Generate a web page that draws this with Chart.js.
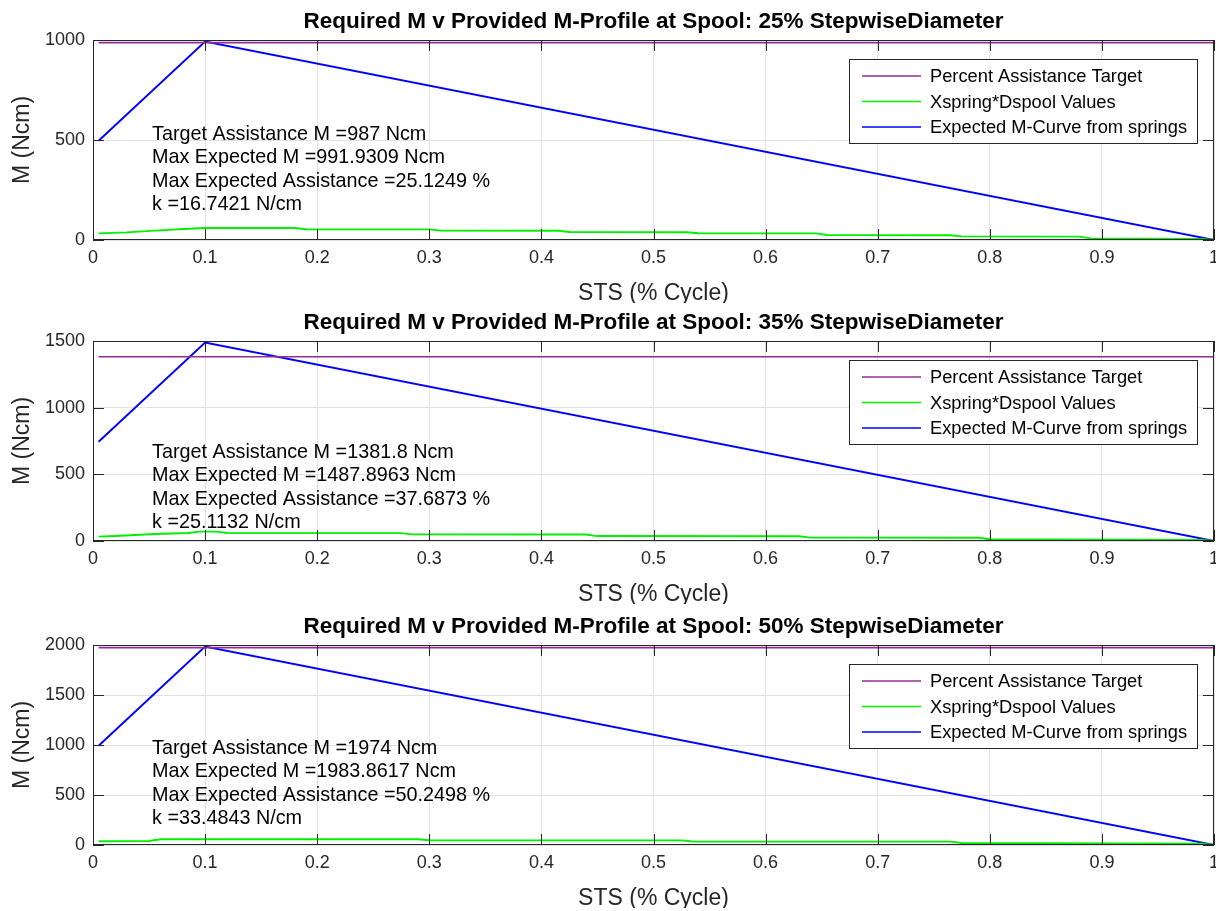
<!DOCTYPE html>
<html>
<head>
<meta charset="utf-8">
<script src="https://cdn.jsdelivr.net/npm/chart.js@4.4.1/dist/chart.umd.min.js"></script>
<style>
  html, body { margin: 0; padding: 0; background: #fff; width: 1216px; height: 911px; overflow: hidden; }
  canvas { position: absolute; left: 0; }
</style>
</head>
<body>
<canvas id="c1" width="1216" height="303" style="top:0px"></canvas>
<canvas id="c2" width="1216" height="303" style="top:301px"></canvas>
<canvas id="c3" width="1216" height="303" style="top:605px"></canvas>
<script>
// ---- data -------------------------------------------------------------
const assistLevels = ['25%', '35%', '50%'];
const seriesNames = ['Percent Assistance Target', 'Xspring*Dspool Values', 'Expected M-Curve from springs'];
const xTickValues = [0, 0.1, 0.2, 0.3, 0.4, 0.5, 0.6, 0.7, 0.8, 0.9, 1];
const yTicks25 = [0, 500, 1000];
const yTicks35 = [0, 500, 1000, 1500];
const yTicks50 = [0, 500, 1000, 1500, 2000];

// required (target) moment per assistance level
const targetX = [0.005, 1];
const targetM25 = [987, 987];
const targetM35 = [1381.8, 1381.8];
const targetM50 = [1974, 1974];

// expected moment curve from the springs
const curveX = [0.005, 0.1, 1];
const curveM25 = [496, 991.9309, 0];
const curveM35 = [744, 1487.8963, 0];
const curveM50 = [992, 1983.8617, 0];

// Xspring * Dspool values
const springX25 = [0.005, 0.03, 0.055, 0.085, 0.1, 0.18, 0.19, 0.30, 0.31, 0.415, 0.425, 0.53, 0.54, 0.645, 0.655, 0.765, 0.775, 0.88, 0.89, 0.99, 1];
const springM25 = [33, 38, 47, 56, 60, 60, 54, 53, 47, 46, 40, 39, 34, 33, 25, 24, 18, 17, 8, 5, 0];
const springX35 = [0.005, 0.02, 0.055, 0.085, 0.095, 0.11, 0.12, 0.275, 0.285, 0.44, 0.45, 0.63, 0.64, 0.79, 0.80, 0.99, 1];
const springM35 = [33, 38, 52, 60, 70, 70, 60, 59, 50, 49, 37, 36, 25, 24, 13, 8, 0];
const springX50 = [0.005, 0.05, 0.06, 0.29, 0.30, 0.525, 0.535, 0.765, 0.775, 0.99, 1];
const springM50 = [38, 40, 58, 57, 47, 46, 35, 34, 20, 12, 0];

// summary numbers printed on each panel
const assistPercent = ['25.1249', '37.6873', '50.2498'];
const stiffness = ['16.7421', '25.1132', '33.4843'];

// ---- drawing ----------------------------------------------------------
const FONT = '"Liberation Sans", Arial, Helvetica, sans-serif';
const TEXT = '#262626';
const COLORS = ['#922d96', '#00f000', '#0000ff'];
Chart.defaults.font.family = FONT;
Chart.defaults.color = TEXT;
Chart.defaults.animation = false;

const zip = (xs, ys) => xs.map((x, i) => ({ x: x, y: ys[i] }));

const panelDecor = {
  id: 'panelDecor',
  afterDraw(chart, args, o) {
    const ctx = chart.ctx;
    const a = chart.chartArea;
    const xs = chart.scales.x, ys = chart.scales.y;
    ctx.save();

    // tick marks (pointing inward) and the axes box
    ctx.strokeStyle = TEXT;
    ctx.lineWidth = 1;
    ctx.beginPath();
    xs.ticks.forEach(t => {
      const px = Math.round(xs.getPixelForValue(t.value)) + 0.5;
      ctx.moveTo(px, a.bottom); ctx.lineTo(px, a.bottom - 11);
      ctx.moveTo(px, a.top); ctx.lineTo(px, a.top + 11);
    });
    ys.ticks.forEach(t => {
      const py = Math.round(ys.getPixelForValue(t.value)) + 0.5;
      ctx.moveTo(a.left, py); ctx.lineTo(a.left + 11, py);
      ctx.moveTo(a.right, py); ctx.lineTo(a.right - 11, py);
    });
    ctx.stroke();
    ctx.strokeRect(a.left + 0.5, a.top + 0.5, a.right - a.left - 1, a.bottom - a.top - 1);

    // title
    ctx.fillStyle = '#000';
    ctx.font = 'bold 22.5px ' + FONT;
    ctx.textAlign = 'center';
    ctx.textBaseline = 'alphabetic';
    ctx.fillText(o.title, (a.left + a.right) / 2, a.top - 12);

    // axis labels
    ctx.fillStyle = TEXT;
    ctx.font = '23px ' + FONT;
    ctx.textBaseline = 'middle';
    ctx.fillText('STS (% Cycle)', (a.left + a.right) / 2, a.bottom + 54);
    ctx.save();
    ctx.translate(23, (a.top + a.bottom) / 2);
    ctx.rotate(-Math.PI / 2);
    ctx.fillText('M (Ncm)', 0, 0);
    ctx.restore();

    // summary text block
    ctx.fillStyle = '#000';
    ctx.font = '19.8px ' + FONT;
    ctx.textAlign = 'left';
    ctx.textBaseline = 'middle';
    o.lines.forEach((s, i) => ctx.fillText(s, 152, a.top + o.textTop + i * 23.3));

    // legend
    const bl = 849, bt = a.top + 19, bw = 348, bh = 84;
    ctx.fillStyle = '#fff';
    ctx.fillRect(bl, bt, bw, bh);
    ctx.strokeStyle = TEXT;
    ctx.lineWidth = 1;
    ctx.strokeRect(bl + 0.5, bt + 0.5, bw, bh);
    ctx.font = '18.3px ' + FONT;
    chart.data.datasets.forEach((ds, i) => {
      const y = bt + 17 + i * 25.5;
      ctx.strokeStyle = ds.borderColor;
      ctx.lineWidth = 1.6;
      ctx.beginPath();
      ctx.moveTo(bl + 13, y); ctx.lineTo(bl + 72, y);
      ctx.stroke();
      ctx.fillStyle = '#000';
      ctx.fillText(ds.label, bl + 81, y + 1);
    });
    ctx.restore();
  }
};

function makePanel(id, level, target, curve, springX, springM, yTicks, idx, textTop) {
  const maxM = Math.max(...curve);
  const lines = [
    'Target Assistance M =' + target[0] + ' Ncm',
    'Max Expected M =' + maxM + ' Ncm',
    'Max Expected Assistance =' + assistPercent[idx] + ' %',
    'k =' + stiffness[idx] + ' N/cm'
  ];
  return new Chart(document.getElementById(id), {
    type: 'line',
    data: {
      datasets: [
        { label: seriesNames[0], data: zip(targetX, target), borderColor: COLORS[0], borderWidth: 1.6 },
        { label: seriesNames[1], data: zip(springX, springM), borderColor: COLORS[1], borderWidth: 1.9 },
        { label: seriesNames[2], data: zip(curveX, curve), borderColor: COLORS[2], borderWidth: 1.9 }
      ]
    },
    options: {
      responsive: false,
      animation: false,
      elements: {
        line: { tension: 0, fill: false },
        point: { radius: 0, hoverRadius: 0 }
      },
      layout: { padding: { top: 40, right: 2, left: 0, bottom: 0 } },
      plugins: {
        legend: { display: false },
        tooltip: { enabled: false },
        title: { display: false },
        panelDecor: { title: 'Required M v Provided M-Profile at Spool: ' + level + ' StepwiseDiameter', lines: lines, textTop: textTop }
      },
      scales: {
        x: {
          type: 'linear', min: 0, max: 1,
          afterBuildTicks: s => { s.ticks = xTickValues.map(v => ({ value: v })); },
          afterFit: s => { s.height = 63; s.paddingLeft = 0; s.paddingRight = 0; },
          ticks: {
            padding: 7, color: TEXT, font: { size: 18 }, maxRotation: 0, autoSkip: false,
            callback: v => (v === 0 || v === 1) ? String(v) : (Math.round(v * 10) / 10).toFixed(1)
          },
          grid: { color: '#e2e2e2', lineWidth: 1, drawTicks: false },
          border: { display: false }
        },
        y: {
          type: 'linear', min: 0, max: yTicks[yTicks.length - 1],
          afterBuildTicks: s => { s.ticks = yTicks.map(v => ({ value: v })); },
          afterFit: s => { s.width = 93; s.paddingTop = 0; s.paddingBottom = 0; },
          ticks: { padding: 8, color: TEXT, font: { size: 18 }, autoSkip: false, callback: v => String(v) },
          grid: { color: '#e2e2e2', lineWidth: 1, drawTicks: false },
          border: { display: false }
        }
      }
    },
    plugins: [panelDecor]
  });
}

makePanel('c1', assistLevels[0], targetM25, curveM25, springX25, springM25, yTicks25, 0, 94.5);
makePanel('c2', assistLevels[1], targetM35, curveM35, springX35, springM35, yTicks35, 1, 111.5);
makePanel('c3', assistLevels[2], targetM50, curveM50, springX50, springM50, yTicks50, 2, 103.5);
</script>
</body>
</html>
